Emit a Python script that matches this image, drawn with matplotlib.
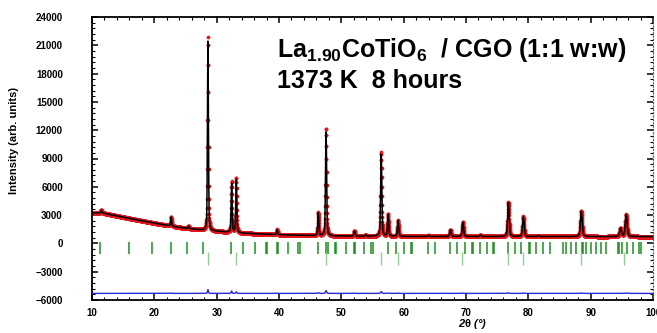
import numpy as np
import matplotlib
matplotlib.use("Agg")
import matplotlib.pyplot as plt
from matplotlib.ticker import MultipleLocator

plt.rcParams['font.family'] = ['Liberation Sans', 'DejaVu Sans']
plt.rcParams['mathtext.fontset'] = 'custom'
plt.rcParams['mathtext.rm'] = 'Liberation Sans:bold'
plt.rcParams['mathtext.default'] = 'rm'

# background of the pattern, read at a few angles (2theta, counts)
bg_angle = [10, 11.5, 13, 16, 20, 24, 28, 34, 40, 48, 60, 100]
bg_counts = [3200, 3250, 3050, 2650, 2150, 1700, 1380, 1090, 920, 790, 740, 720]

# reflections seen in the pattern
peak_pos = [11.5, 22.7, 25.5, 28.6, 32.4, 33.15, 39.7, 46.3, 47.55, 52.1, 53.9,
            56.4, 57.5, 59.1, 64.0, 67.5, 69.5, 72.3, 76.8, 79.2, 81.6, 88.5,
            94.8, 95.7]
obs_height = [300, 1000, 250, 20500, 5450, 5800, 550, 2480, 11400, 550, 150,
              8900, 2330, 1700, 100, 710, 1520, 150, 3640, 2120, 100, 2700,
              870, 2350]
calc_height = [290, 950, 240, 20100, 5200, 5650, 530, 2400, 11100, 530, 145,
               8700, 2280, 1670, 100, 700, 1490, 145, 3580, 2080, 100, 2660,
               855, 2310]
peak_fwhm = [0.18, 0.18, 0.18, 0.18, 0.19, 0.19, 0.2, 0.21, 0.21, 0.22, 0.22,
             0.23, 0.23, 0.24, 0.25, 0.26, 0.27, 0.28, 0.29, 0.3, 0.31, 0.33,
             0.35, 0.35]

# Bragg positions: perovskite phase and CGO phase
bragg_perov = [11.3, 15.9, 19.6, 22.6, 25.3, 27.8, 32.3, 34.3, 36.2, 37.9, 38.1,
               39.7, 39.9, 41.5, 43.1, 43.3, 46.2, 47.6, 47.8, 49.0, 49.2, 50.7,
               52.0, 52.2, 53.6, 54.8, 55.0, 57.5, 58.8, 60.1, 61.2, 61.4, 63.9,
               65.1, 67.4, 68.5, 69.8, 70.9, 71.1, 72.2, 73.4, 74.3, 74.5, 76.7,
               77.9, 78.8, 80.1, 80.3, 81.2, 82.3, 83.4, 85.6, 86.1, 86.8, 87.6,
               88.6, 88.8, 89.2, 90.0, 90.8, 91.6, 92.5, 94.4, 94.6, 95.0, 95.8,
               96.8, 97.8, 98.0]
bragg_cgo = [28.6, 33.1, 47.5, 56.35, 59.1, 69.4, 76.7, 79.1, 88.4, 95.4]

diff_offset = -5300

tt = np.arange(10, 100.001, 0.02)
bg = np.interp(tt, bg_angle, bg_counts)


def profile(heights):
    y = bg.copy()
    for p, h, w in zip(peak_pos, heights, peak_fwhm):
        g = np.exp(-4 * np.log(2) * ((tt - p) / w) ** 2)
        l = 1 / (1 + 4 * ((tt - p) / w) ** 2)
        y += h * (0.6 * g + 0.4 * l)
    return y


y_obs = profile(obs_height)
y_calc = profile(calc_height)

fig = plt.figure(figsize=(6.57, 3.33), dpi=100)
ax = fig.add_axes([92 / 657, 1 - 300 / 333, (653 - 92) / 657, (300 - 17) / 333])

ax.plot(tt, y_obs, 'o', ms=2.7, color='#e3161b', mec='none', zorder=2)
ax.plot(tt, y_calc, '-', color='black', lw=1.1, zorder=3)
ax.plot(tt, y_obs - y_calc + diff_offset, '-', color='#2a2ad8', lw=1.0, zorder=3)
ax.vlines(bragg_perov, -1150, 150, color='#1f8f1f', lw=1.1, zorder=2)
ax.vlines(bragg_cgo, -2250, -950, color='#8dcf8d', lw=1.0, zorder=2)

ax.set_xlim(10, 100)
ax.set_ylim(-6000, 24000)
ax.xaxis.set_major_locator(MultipleLocator(10))
ax.xaxis.set_minor_locator(MultipleLocator(2))
ax.yaxis.set_major_locator(MultipleLocator(3000))
ax.yaxis.set_minor_locator(MultipleLocator(600))
ax.tick_params(which='both', direction='in', top=True, right=True)
ax.tick_params(which='major', length=4, width=1.1)
ax.tick_params(which='minor', length=2.2, width=0.8)
ax.tick_params(axis='y', which='major', pad=21, labelsize=7)
ax.tick_params(axis='x', which='major', pad=6, labelsize=7)
for lab in ax.get_xticklabels() + ax.get_yticklabels():
    lab.set_fontweight('bold')

for s in ['left', 'bottom', 'top']:
    ax.spines[s].set_linewidth(1.3)
ax.spines['right'].set_linestyle((0, (1, 2)))
ax.spines['right'].set_linewidth(0.8)
ax.spines['right'].set_color('#555555')

ax.set_ylabel('Intensity (arb. units)', fontsize=8, fontweight='bold')
ax.yaxis.set_label_coords(-0.13, 0.565)
ax.set_xlabel(r'2$\theta$ (°)', fontsize=8, fontweight='bold', style='italic')
ax.xaxis.set_label_coords(0.678, -0.06)

fig.text(277 / 657, 1 - 57 / 333, 'La$_{1.90}$CoTiO$_6$  / CGO (1:1 w:w)',
         fontsize=18, fontweight='bold', va='baseline')
fig.text(277 / 657, 1 - 88 / 333, '1373 K  8 hours',
         fontsize=18, fontweight='bold', va='baseline')

fig.savefig('out.png', dpi=100)
